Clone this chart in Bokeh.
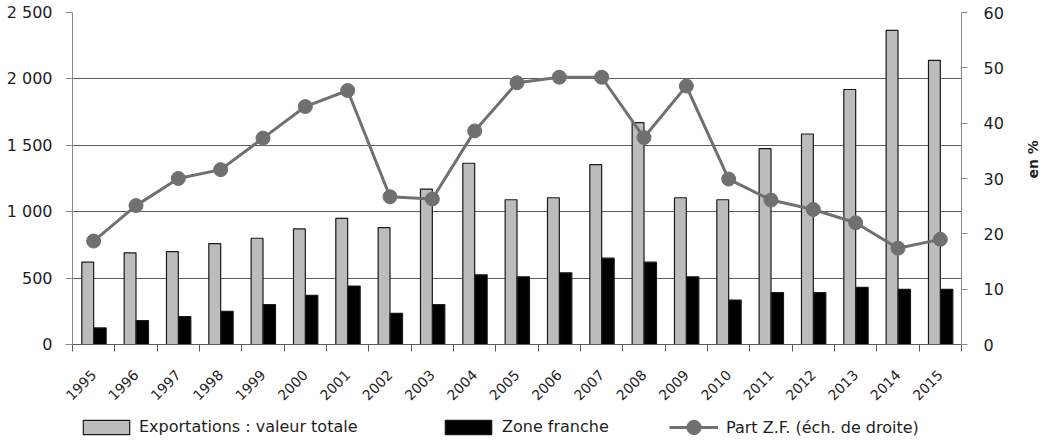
from math import pi

from bokeh.embed import file_html
from bokeh.layouts import column
from bokeh.models import (ColumnDataSource, FixedTicker, Legend, LegendItem,
                          LinearAxis, Range1d)
from bokeh.plotting import figure
from bokeh.resources import INLINE
from bokeh.transform import dodge

# Exportations et zone franche, 1995-2015
years = list(range(1995, 2016))
export_total = [620, 690, 700, 760, 800, 870, 950, 880, 1170, 1365, 1090,
                1105, 1355, 1670, 1105, 1090, 1475, 1585, 1920, 2365, 2140]
zone_franche = [125, 180, 210, 250, 300, 370, 440, 235, 300, 525, 510,
                540, 650, 620, 510, 335, 390, 390, 430, 415, 415]
part_zf = [18.7, 25.1, 30.0, 31.6, 37.3, 43.0, 45.9, 26.7, 26.3, 38.6, 47.3,
           48.3, 48.3, 37.4, 46.7, 29.9, 26.1, 24.4, 22.0, 17.4, 19.0]
left_ticks = [0, 500, 1000, 1500, 2000, 2500]
right_ticks = [0, 10, 20, 30, 40, 50, 60]
series_names = ["Exportations : valeur totale", "Zone franche",
                "Part Z.F. (éch. de droite)"]

FONT = "DejaVu Sans"
TEXT = "#1e1e1e"
GRID = "#5c5c5c"
AXIS = "#8a8a8a"
LINE = "#707070"
BAR_GREY = "#bcbcbc"
EDGE = "#1a1a1a"

src = ColumnDataSource(dict(year=years, total=export_total,
                            zf=zone_franche, pct=part_zf))

p = figure(width=1056, height=408, output_backend="svg", toolbar_location=None,
           x_range=Range1d(years[0] - 0.5, years[-1] + 0.5),
           y_range=Range1d(left_ticks[0], left_ticks[-1]),
           min_border_left=72, min_border_right=95,
           min_border_top=12, min_border_bottom=64)
p.outline_line_color = None
p.extra_y_ranges = {"pct": Range1d(right_ticks[0], right_ticks[-1])}

# bars
p.vbar(x=dodge("year", -0.14), top="total", width=0.28, source=src,
       fill_color=BAR_GREY, line_color=EDGE, line_width=1.2)
p.vbar(x=dodge("year", 0.15), top="zf", width=0.29, source=src,
       fill_color="black", line_color=EDGE, line_width=1.2)

# share line on the right scale
p.line("year", "pct", source=src, y_range_name="pct",
       line_color=LINE, line_width=3)
p.scatter("year", "pct", source=src, y_range_name="pct", size=14,
          fill_color=LINE, line_color=LINE)

# grid
p.xgrid.visible = False
p.ygrid.grid_line_color = GRID
p.ygrid.grid_line_width = 1

# bottom axis: labels at centres, ticks between years
xaxis = p.xaxis[0]
xaxis.ticker = FixedTicker(ticks=years,
                           minor_ticks=[y - 0.5 for y in years] + [years[-1] + 0.5])
xaxis.major_tick_in = 0
xaxis.major_tick_out = 0
xaxis.minor_tick_in = 0
xaxis.minor_tick_out = 7
xaxis.minor_tick_line_color = GRID
xaxis.axis_line_color = GRID
xaxis.major_label_orientation = pi / 4
xaxis.major_label_text_font = FONT
xaxis.major_label_text_font_size = "14px"
xaxis.major_label_text_color = TEXT
xaxis.major_label_standoff = 21
xaxis.major_label_overrides = {y: str(y) for y in years}

# left axis
yaxis = p.yaxis[0]
yaxis.ticker = FixedTicker(ticks=left_ticks)
yaxis.major_label_overrides = {t: f"{t:,}".replace(",", " ") for t in left_ticks}
yaxis.major_tick_in = 0
yaxis.major_tick_out = 7
yaxis.minor_tick_line_color = None
yaxis.major_tick_line_color = AXIS
yaxis.axis_line_color = AXIS
yaxis.major_label_text_font = FONT
yaxis.major_label_text_font_size = "16px"
yaxis.major_label_text_color = TEXT
yaxis.major_label_standoff = 13

# right axis (percent)
raxis = LinearAxis(y_range_name="pct", ticker=FixedTicker(ticks=right_ticks))
raxis.major_tick_in = 0
raxis.major_tick_out = 6
raxis.minor_tick_line_color = None
raxis.major_tick_line_color = AXIS
raxis.axis_line_color = AXIS
raxis.major_label_text_font = FONT
raxis.major_label_text_font_size = "16px"
raxis.major_label_text_color = TEXT
raxis.major_label_standoff = 16
raxis.axis_label = "en %"
raxis.axis_label_text_font = FONT
raxis.axis_label_text_font_size = "14px"
raxis.axis_label_text_font_style = "bold"
raxis.axis_label_text_color = TEXT
raxis.axis_label_text_align = "right"
raxis.axis_label_standoff = 26
if "axis_label_orientation" in raxis.properties():
    raxis.axis_label_orientation = pi / 2
p.add_layout(raxis, "right")

# legend strip under the chart; its key glyphs sit outside the visible range
key = figure(width=1056, height=34, output_backend="svg", toolbar_location=None,
             x_axis_type=None, y_axis_type=None,
             min_border_left=72, min_border_right=95,
             min_border_top=0, min_border_bottom=0,
             x_range=Range1d(0, 1), y_range=Range1d(0, 1))
key.outline_line_color = None

off = dict(x=[-5], y=[-5], top=[-5])
key_total = key.vbar(x="x", top="top", width=0.1, source=ColumnDataSource(off),
                     fill_color=BAR_GREY, line_color=EDGE, line_width=1.2)
key_zf = key.vbar(x="x", top="top", width=0.1, source=ColumnDataSource(off),
                  fill_color="black", line_color=EDGE, line_width=1.2)
key_line = key.line(x="x", y="y", source=ColumnDataSource(off),
                    line_color=LINE, line_width=3)
key_dot = key.scatter(x="x", y="y", source=ColumnDataSource(off),
                      fill_color=LINE, line_color=LINE)


def add_key(label, renderers, loc, gw, gh, standoff):
    leg = Legend(items=[LegendItem(label=label, renderers=renderers)],
                 location=loc, orientation="horizontal",
                 glyph_width=gw, glyph_height=gh, label_standoff=standoff,
                 label_height=17, padding=0, margin=0, spacing=0,
                 border_line_color=None, background_fill_alpha=0,
                 label_text_font=FONT, label_text_font_size="16px",
                 label_text_color=TEXT, label_text_baseline="middle")
    key.add_layout(leg, "center")


add_key(series_names[0], [key_total], (5, 6), 58, 18, 4)
add_key(series_names[1], [key_zf], (367, 6), 58, 18, 5)
add_key(series_names[2], [key_line, key_dot], (597, -3), 49, 36, 8)

layout = column(p, key, spacing=0)
open("out.html", "w").write(file_html(layout, INLINE))
